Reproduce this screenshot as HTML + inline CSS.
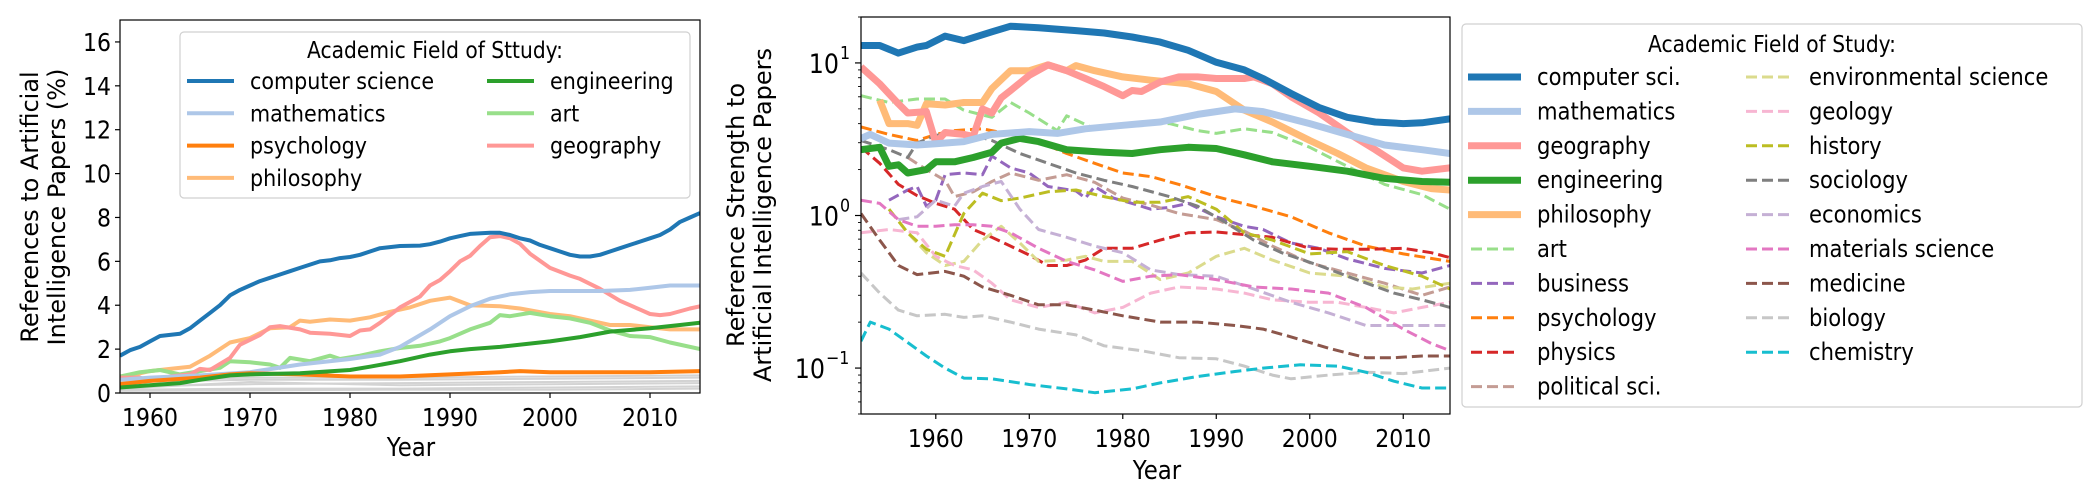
<!DOCTYPE html>
<html><head><meta charset="utf-8">
<style>
html,body{margin:0;padding:0;background:#fff;}
svg{display:block;font-family:"DejaVu Sans","Liberation Sans",sans-serif;}
</style></head>
<body>
<svg id="chart" width="2098" height="494" viewBox="0 0 2098 494" xmlns="http://www.w3.org/2000/svg">
<rect x="0" y="0" width="2098" height="494" fill="#fff"/>
<g id="left"></g>
<g id="right"></g>
</svg>
<script>
// ---------- LEFT CHART DATA ----------
const leftYearTicks = [1960,1970,1980,1990,2000,2010];
const leftValueTicks = [0,2,4,6,8,10,12,14,16];
const leftCs = [[1957,1.7],[1958,1.95],[1959,2.1],[1960,2.35],[1961,2.6],[1962,2.65],[1963,2.7],[1964,2.95],[1965,3.3],[1966,3.65],[1967,4.0],[1968,4.45],[1969,4.7],[1970,4.9],[1971,5.1],[1972,5.25],[1973,5.4],[1974,5.55],[1975,5.7],[1976,5.85],[1977,6.0],[1978,6.05],[1979,6.15],[1980,6.2],[1981,6.3],[1982,6.45],[1983,6.6],[1984,6.65],[1985,6.7],[1987,6.72],[1988,6.78],[1989,6.9],[1990,7.05],[1991,7.15],[1992,7.25],[1994,7.3],[1995,7.3],[1996,7.2],[1997,7.05],[1998,6.95],[1999,6.75],[2000,6.6],[2001,6.45],[2002,6.3],[2003,6.22],[2004,6.22],[2005,6.3],[2006,6.45],[2007,6.6],[2008,6.75],[2009,6.9],[2010,7.05],[2011,7.2],[2012,7.45],[2013,7.8],[2014,8.0],[2015,8.2]];
const leftMath = [[1957,0.6],[1960,0.7],[1965,0.8],[1970,0.95],[1975,1.3],[1980,1.55],[1983,1.75],[1985,2.1],[1988,2.9],[1990,3.5],[1992,3.95],[1994,4.3],[1996,4.5],[1998,4.6],[2000,4.65],[2005,4.65],[2008,4.7],[2010,4.8],[2012,4.9],[2015,4.9]];
const leftPsych = [[1957,0.4],[1960,0.55],[1965,0.7],[1968,0.85],[1970,0.9],[1975,0.85],[1980,0.75],[1985,0.75],[1990,0.85],[1995,0.95],[1997,1.0],[2000,0.95],[2005,0.95],[2010,0.95],[2015,1.0]];
const leftPhil = [[1957,0.5],[1959,0.9],[1960,1.0],[1962,1.1],[1964,1.2],[1966,1.7],[1968,2.3],[1970,2.5],[1972,2.95],[1974,3.0],[1975,3.3],[1976,3.25],[1978,3.35],[1980,3.3],[1982,3.45],[1984,3.7],[1986,3.9],[1988,4.2],[1990,4.35],[1992,4.0],[1995,3.95],[1997,3.85],[2000,3.6],[2002,3.5],[2004,3.3],[2006,3.1],[2008,3.1],[2010,3.0],[2012,2.9],[2015,2.9]];
const leftEng = [[1957,0.25],[1960,0.35],[1963,0.45],[1965,0.6],[1968,0.8],[1970,0.85],[1975,0.9],[1980,1.05],[1982,1.2],[1985,1.45],[1988,1.75],[1990,1.9],[1992,2.0],[1995,2.1],[2000,2.35],[2003,2.55],[2006,2.8],[2010,2.95],[2013,3.1],[2015,3.2]];
const leftArt = [[1957,0.75],[1959,0.95],[1961,1.05],[1963,0.85],[1965,1.0],[1967,1.15],[1968,1.45],[1970,1.4],[1972,1.3],[1973,1.15],[1974,1.6],[1976,1.45],[1978,1.7],[1979,1.55],[1981,1.7],[1983,1.9],[1985,2.05],[1987,2.15],[1989,2.35],[1990,2.5],[1992,2.9],[1994,3.2],[1995,3.55],[1996,3.5],[1998,3.65],[2000,3.5],[2002,3.4],[2004,3.2],[2006,2.85],[2008,2.6],[2010,2.55],[2012,2.3],[2015,2.0]];
const leftGeog = [[1957,0.7],[1959,0.7],[1960,0.55],[1962,0.75],[1964,0.85],[1965,1.1],[1966,1.05],[1968,1.6],[1969,2.2],[1971,2.65],[1972,3.0],[1973,3.05],[1975,2.9],[1976,2.75],[1978,2.7],[1980,2.6],[1981,2.85],[1982,2.9],[1983,3.2],[1985,3.9],[1987,4.4],[1988,4.9],[1989,5.15],[1990,5.55],[1991,6.0],[1992,6.25],[1993,6.7],[1994,7.1],[1995,7.15],[1996,7.05],[1997,6.8],[1998,6.35],[2000,5.7],[2002,5.35],[2003,5.2],[2005,4.75],[2007,4.2],[2009,3.8],[2010,3.6],[2011,3.55],[2012,3.6],[2014,3.85],[2015,3.95]];
const leftGray1 = [[1957,0.15],[1970,0.2],[1985,0.2],[2000,0.25],[2015,0.3]];
const leftGray2 = [[1957,0.3],[1970,0.4],[1985,0.45],[2000,0.5],[2015,0.55]];
const leftGray3 = [[1957,0.5],[1970,0.6],[1985,0.6],[2000,0.65],[2015,0.7]];
const leftGray4 = [[1957,0.1],[1970,0.12],[1985,0.15],[2000,0.15],[2015,0.2]];
const leftGray5 = [[1957,0.2],[1970,0.5],[1985,0.35],[2000,0.4],[2015,0.45]];
const leftGray6 = [[1957,0.6],[1970,0.7],[1985,0.7],[2000,0.75],[2015,0.8]];

// ---------- RIGHT CHART DATA ----------
const rightYearTicks = [1960,1970,1980,1990,2000,2010];
const rightDecades = [-1,0,1];
const rCs = [[1952,13],[1954,13],[1956,11.6],[1958,12.7],[1959,13],[1961,15],[1963,14],[1966,16],[1968,17.4],[1971,17],[1975,16.3],[1978,15.7],[1981,14.8],[1984,13.7],[1987,12.1],[1990,10.1],[1993,9],[1995,7.9],[1998,6.3],[2001,5.1],[2004,4.4],[2007,4.1],[2010,4.0],[2012,4.05],[2015,4.3]];
const rMath = [[1952,3.2],[1953,3.4],[1955,2.98],[1958,2.9],[1960,2.95],[1963,3.05],[1966,3.4],[1970,3.55],[1973,3.45],[1976,3.7],[1980,3.9],[1984,4.1],[1988,4.6],[1992,5.0],[1995,4.8],[2000,4.0],[2004,3.4],[2008,2.9],[2012,2.7],[2015,2.55]];
const rGeog = [[1952,9.4],[1954,7.3],[1956,5.4],[1957,4.7],[1959,4.8],[1960,3.0],[1961,3.5],[1963,3.4],[1964,3.3],[1965,5.0],[1966,4.7],[1967,5.9],[1968,6.6],[1970,8.3],[1972,9.7],[1974,8.9],[1976,7.9],[1978,7.0],[1980,6.1],[1981,6.6],[1982,6.5],[1984,7.5],[1986,8.1],[1988,8.1],[1990,7.9],[1993,7.9],[1994,8.1],[1996,7.3],[1998,6.0],[2001,4.7],[2004,3.5],[2007,2.7],[2010,2.05],[2012,1.95],[2015,2.05]];
const rEng = [[1952,2.7],[1954,2.8],[1955,2.1],[1956,2.15],[1957,1.9],[1959,2.0],[1960,2.25],[1962,2.25],[1964,2.4],[1966,2.6],[1967,2.98],[1969,3.2],[1971,3.05],[1974,2.7],[1978,2.6],[1981,2.55],[1984,2.7],[1987,2.8],[1990,2.75],[1993,2.5],[1996,2.25],[2000,2.1],[2004,1.95],[2008,1.75],[2012,1.67],[2015,1.65]];
const rPhil = [[1954,5.7],[1955,4.0],[1957,4.0],[1958,3.9],[1959,5.4],[1961,5.3],[1963,5.5],[1965,5.5],[1966,6.8],[1968,8.9],[1970,8.9],[1972,9.7],[1974,8.9],[1975,9.6],[1977,8.9],[1980,8.1],[1983,7.7],[1987,7.3],[1990,6.5],[1993,4.9],[1996,4.1],[2000,3.1],[2003,2.55],[2006,2.05],[2010,1.67],[2013,1.5],[2015,1.47]];
const rArt = [[1952,6.1],[1955,5.5],[1958,5.8],[1961,5.8],[1963,4.9],[1966,4.4],[1968,5.5],[1970,4.7],[1973,3.6],[1974,4.5],[1977,3.7],[1980,4.0],[1985,4.0],[1988,3.6],[1990,3.45],[1993,3.7],[1996,3.5],[2000,2.8],[2004,2.1],[2008,1.6],[2012,1.37],[2015,1.1]];
const rBusiness = [[1955,1.26],[1957,1.47],[1958,1.55],[1959,1.15],[1960,1.26],[1961,1.85],[1963,1.9],[1965,1.85],[1966,2.45],[1968,2.05],[1970,1.9],[1972,1.55],[1975,1.45],[1976,1.3],[1977,1.55],[1979,1.3],[1981,1.2],[1983,1.1],[1985,1.13],[1987,1.2],[1990,0.98],[1993,0.85],[1995,0.81],[1998,0.66],[2001,0.61],[2004,0.52],[2008,0.45],[2012,0.42],[2015,0.47]];
const rPsych = [[1952,3.8],[1955,3.4],[1958,3.1],[1960,3.4],[1962,3.6],[1965,3.7],[1968,3.4],[1971,3.05],[1974,2.55],[1977,2.2],[1980,1.9],[1983,1.8],[1986,1.6],[1990,1.33],[1994,1.15],[1998,0.98],[2002,0.77],[2006,0.63],[2010,0.56],[2015,0.5]];
const rPhysics = [[1952,2.8],[1954,2.2],[1956,1.6],[1958,1.35],[1960,1.2],[1962,1.1],[1964,0.81],[1966,0.72],[1968,0.63],[1970,0.55],[1972,0.47],[1974,0.47],[1976,0.51],[1978,0.61],[1981,0.61],[1984,0.69],[1987,0.77],[1990,0.78],[1993,0.75],[1996,0.72],[2000,0.61],[2003,0.6],[2006,0.6],[2010,0.61],[2013,0.57],[2015,0.53]];
const rPolisci = [[1957,2.4],[1959,2.0],[1961,1.7],[1962,1.33],[1964,1.43],[1966,1.67],[1968,1.9],[1971,1.7],[1974,1.85],[1977,1.65],[1980,1.3],[1983,1.17],[1986,1.03],[1990,0.94],[1993,0.79],[1996,0.63],[2000,0.49],[2004,0.42],[2008,0.36],[2012,0.3],[2015,0.34]];
const rEnv = [[1955,1.1],[1957,0.77],[1959,0.57],[1961,0.47],[1963,0.5],[1965,0.69],[1967,0.85],[1969,0.66],[1971,0.5],[1974,0.51],[1976,0.54],[1978,0.5],[1981,0.5],[1984,0.38],[1987,0.42],[1990,0.54],[1993,0.61],[1996,0.51],[2000,0.42],[2004,0.4],[2008,0.34],[2011,0.33],[2015,0.36]];
const rGeology = [[1952,0.77],[1955,0.81],[1958,0.77],[1960,0.54],[1962,0.47],[1964,0.44],[1966,0.36],[1968,0.28],[1971,0.25],[1974,0.27],[1977,0.23],[1980,0.25],[1983,0.31],[1986,0.34],[1990,0.33],[1993,0.31],[1996,0.28],[2000,0.27],[2003,0.27],[2006,0.25],[2009,0.23],[2012,0.25],[2015,0.27]];
const rHistory = [[1955,1.1],[1957,0.77],[1959,0.6],[1961,0.54],[1963,1.03],[1965,1.4],[1967,1.25],[1969,1.3],[1972,1.43],[1975,1.47],[1978,1.33],[1981,1.22],[1984,1.22],[1987,1.33],[1990,1.1],[1993,0.77],[1996,0.69],[2000,0.56],[2004,0.58],[2008,0.47],[2012,0.4],[2015,0.33]];
const rSociology = [[1952,3.1],[1955,2.7],[1957,2.4],[1958,2.98],[1960,3.35],[1963,3.5],[1966,3.1],[1969,2.55],[1972,2.2],[1975,1.9],[1978,1.7],[1981,1.55],[1985,1.33],[1988,1.15],[1991,0.9],[1994,0.69],[1997,0.57],[2001,0.47],[2005,0.38],[2009,0.31],[2012,0.28],[2015,0.25]];
const rEconomics = [[1956,0.94],[1958,0.98],[1960,1.26],[1962,1.15],[1963,1.4],[1965,1.55],[1967,1.67],[1969,1.1],[1971,0.81],[1974,0.72],[1977,0.63],[1980,0.57],[1983,0.44],[1986,0.41],[1990,0.4],[1994,0.33],[1998,0.27],[2002,0.23],[2006,0.19],[2010,0.19],[2015,0.19]];
const rMaterials = [[1952,1.26],[1954,1.2],[1956,0.94],[1958,0.85],[1960,0.85],[1962,0.87],[1964,0.87],[1966,0.85],[1968,0.77],[1971,0.61],[1974,0.5],[1977,0.44],[1980,0.37],[1983,0.4],[1986,0.41],[1990,0.38],[1994,0.34],[1998,0.33],[2002,0.31],[2006,0.25],[2010,0.18],[2013,0.145],[2015,0.13]];
const rMedicine = [[1952,1.03],[1954,0.69],[1956,0.47],[1958,0.41],[1961,0.43],[1963,0.4],[1965,0.34],[1968,0.3],[1971,0.26],[1974,0.26],[1977,0.24],[1980,0.22],[1984,0.2],[1988,0.2],[1992,0.19],[1995,0.18],[1998,0.16],[2002,0.135],[2006,0.117],[2009,0.117],[2012,0.12],[2015,0.12]];
const rBiology = [[1952,0.42],[1954,0.31],[1956,0.24],[1958,0.22],[1961,0.225],[1963,0.215],[1965,0.22],[1968,0.2],[1971,0.18],[1975,0.165],[1978,0.14],[1982,0.13],[1986,0.117],[1990,0.115],[1993,0.103],[1996,0.09],[1998,0.085],[2002,0.09],[2006,0.094],[2010,0.092],[2015,0.1]];
const rChem = [[1952,0.15],[1953,0.2],[1955,0.18],[1957,0.147],[1959,0.12],[1961,0.1],[1963,0.086],[1966,0.085],[1970,0.078],[1974,0.073],[1977,0.069],[1981,0.073],[1984,0.08],[1988,0.088],[1992,0.095],[1995,0.1],[1999,0.105],[2003,0.103],[2006,0.094],[2009,0.082],[2012,0.074],[2015,0.074]];

const NS = "http://www.w3.org/2000/svg";
const SX = 0.88;
function mk(parent, tag, attrs, text) {
  const e = document.createElementNS(NS, tag);
  for (const k in attrs) e.setAttribute(k, attrs[k]);
  if (text !== undefined) e.textContent = text;
  parent.appendChild(e);
  return e;
}
// condensed text helper
function txt(parent, x, y, size, anchor, str) {
  return mk(parent, 'text', {transform: 'translate(' + x + ',' + y + ') scale(' + SX + ',1)', x: 0, y: 0, 'font-size': size, 'text-anchor': anchor}, str);
}

// ---------- LEFT ----------
const L = document.getElementById('left');
const lx0 = 120, lx1 = 700, ly0 = 20, ly1 = 393;
const lxMin = 1957, lxMax = 2015, lyMin = 0, lyMax = 17;
function lx(v) { return lx0 + (v - lxMin) / (lxMax - lxMin) * (lx1 - lx0); }
function ly(v) { return ly1 - (v - lyMin) / (lyMax - lyMin) * (ly1 - ly0); }
function lpath(data) { return data.map((d, i) => (i ? 'L' : 'M') + lx(d[0]).toFixed(1) + ' ' + ly(d[1]).toFixed(1)).join(' '); }

const lclip = mk(L, 'clipPath', {id: 'lclip'});
mk(lclip, 'rect', {x: lx0, y: ly0, width: lx1 - lx0, height: ly1 - ly0});
const lplot = mk(L, 'g', {'clip-path': 'url(#lclip)'});



const leftGrays = [leftGray1, leftGray2, leftGray3, leftGray4, leftGray5, leftGray6];
leftGrays.forEach(g => {
  const p = mk(lplot, 'path', {d: lpath(g), fill: 'none', stroke: '#d3d3d3', 'stroke-width': 2});
  
  
});
const leftSeries = [
  {d: leftPhil, c: '#ffbb78', n: 'philosophy'},
  {d: leftArt, c: '#98df8a', n: 'art'},
  {d: leftGeog, c: '#ff9896', n: 'geography'},
  {d: leftMath, c: '#aec7e8', n: 'mathematics'},
  {d: leftPsych, c: '#ff7f0e', n: 'psychology'},
  {d: leftEng, c: '#2ca02c', n: 'engineering'},
  {d: leftCs, c: '#1f77b4', n: 'computer-science'}
];
leftSeries.forEach(s => {
  const p = mk(lplot, 'path', {d: lpath(s.d), fill: 'none', stroke: s.c, 'stroke-width': 4, 'stroke-linejoin': 'round'});
  
  
});
const lframe = mk(L, 'rect', {x: lx0, y: ly0, width: lx1 - lx0, height: ly1 - ly0, fill: 'none', stroke: '#000', 'stroke-width': 1.2});


leftYearTicks.forEach(t => {
  mk(L, 'line', {x1: lx(t), x2: lx(t), y1: ly1, y2: ly1 + 5, stroke: '#000', 'stroke-width': 1.2});
  const tx = txt(L, lx(t), ly1 + 33, 25, 'middle', String(t));
  
  
});
leftValueTicks.forEach(t => {
  mk(L, 'line', {x1: lx0 - 5, x2: lx0, y1: ly(t), y2: ly(t), stroke: '#000', 'stroke-width': 1.2});
  const tx = txt(L, lx0 - 9, ly(t) + 9, 25, 'end', String(t));
  
  
});
const lxt = txt(L, 411, 456, 26, 'middle', 'Year');


const lyt = mk(L, 'text', {transform: 'translate(38,207) rotate(-90)', 'font-size': 24, 'text-anchor': 'middle'});


mk(lyt, 'tspan', {x: 0, y: 0}, 'References to Artificial');
mk(lyt, 'tspan', {x: 0, y: 27}, 'Intelligence Papers (%)');

// left legend
const lleg = mk(L, 'g', {});


mk(lleg, 'rect', {x: 180, y: 32, width: 510, height: 166, rx: 4, fill: '#fff', 'fill-opacity': 0.85, stroke: '#d0d0d0', 'stroke-width': 1.2});
txt(lleg, 435, 58, 23, 'middle', 'Academic Field of Sttudy:');
const lLegItems = [
  ['computer science', '#1f77b4', 0, 0], ['mathematics', '#aec7e8', 0, 1], ['psychology', '#ff7f0e', 0, 2], ['philosophy', '#ffbb78', 0, 3],
  ['engineering', '#2ca02c', 1, 0], ['art', '#98df8a', 1, 1], ['geography', '#ff9896', 1, 2]
];
lLegItems.forEach(it => {
  const hx = it[2] ? 487 : 187, tx = it[2] ? 550 : 250, yy = 81 + it[3] * 32.3;
  const e = mk(lleg, 'g', {});
  
  
  mk(e, 'line', {x1: hx, x2: hx + 47, y1: yy, y2: yy, stroke: it[1], 'stroke-width': 4});
  txt(e, tx, yy + 8, 23.5, 'start', it[0]);
});

// ---------- RIGHT ----------
const R = document.getElementById('right');
const rx0 = 861, rx1 = 1450, ry0 = 17, ry1 = 414;
const rxMin = 1952, rxMax = 2015;
const rlogMin = Math.log10(0.05), rlogMax = Math.log10(20);
function rx(v) { return rx0 + (v - rxMin) / (rxMax - rxMin) * (rx1 - rx0); }
function ry(v) { return ry1 - (Math.log10(v) - rlogMin) / (rlogMax - rlogMin) * (ry1 - ry0); }
function rpath(data) { return data.map((d, i) => (i ? 'L' : 'M') + rx(d[0]).toFixed(1) + ' ' + ry(d[1]).toFixed(1)).join(' '); }

const rclip = mk(R, 'clipPath', {id: 'rclip'});
mk(rclip, 'rect', {x: rx0, y: ry0, width: rx1 - rx0, height: ry1 - ry0});
const rplot = mk(R, 'g', {'clip-path': 'url(#rclip)'});



const rSeries = [
  {d: rCs, c: '#1f77b4', n: 'computer sci.', thick: 1},
  {d: rMath, c: '#aec7e8', n: 'mathematics', thick: 1},
  {d: rGeog, c: '#ff9896', n: 'geography', thick: 1},
  {d: rEng, c: '#2ca02c', n: 'engineering', thick: 1},
  {d: rPhil, c: '#ffbb78', n: 'philosophy', thick: 1},
  {d: rArt, c: '#98df8a', n: 'art', thick: 0},
  {d: rBusiness, c: '#9467bd', n: 'business', thick: 0},
  {d: rPsych, c: '#ff7f0e', n: 'psychology', thick: 0},
  {d: rPhysics, c: '#d62728', n: 'physics', thick: 0},
  {d: rPolisci, c: '#c49c94', n: 'political sci.', thick: 0},
  {d: rEnv, c: '#dbdb8d', n: 'environmental science', thick: 0},
  {d: rGeology, c: '#f7b6d2', n: 'geology', thick: 0},
  {d: rHistory, c: '#bcbd22', n: 'history', thick: 0},
  {d: rSociology, c: '#7f7f7f', n: 'sociology', thick: 0},
  {d: rEconomics, c: '#c5b0d5', n: 'economics', thick: 0},
  {d: rMaterials, c: '#e377c2', n: 'materials science', thick: 0},
  {d: rMedicine, c: '#8c564b', n: 'medicine', thick: 0},
  {d: rBiology, c: '#c7c7c7', n: 'biology', thick: 0},
  {d: rChem, c: '#17becf', n: 'chemistry', thick: 0}
];
rSeries.filter(s => !s.thick).concat(rSeries.filter(s => s.thick).reverse()).forEach(s => {
  const a = {d: rpath(s.d), fill: 'none', stroke: s.c, 'stroke-linejoin': 'round'};
  if (s.thick) a['stroke-width'] = 7; else { a['stroke-width'] = 3; a['stroke-dasharray'] = '11 5'; }
  const p = mk(rplot, 'path', a);
  
  
});
const rframe = mk(R, 'rect', {x: rx0, y: ry0, width: rx1 - rx0, height: ry1 - ry0, fill: 'none', stroke: '#000', 'stroke-width': 1.2});


rightYearTicks.forEach(t => {
  mk(R, 'line', {x1: rx(t), x2: rx(t), y1: ry1, y2: ry1 + 5, stroke: '#000', 'stroke-width': 1.2});
  const tx = txt(R, rx(t), ry1 + 33, 25, 'middle', String(t));
  
  
});
rightDecades.forEach(d => {
  const v = Math.pow(10, d);
  mk(R, 'line', {x1: rx0 - 6, x2: rx0, y1: ry(v), y2: ry(v), stroke: '#000', 'stroke-width': 1.2});
  const sup = d < 0 ? '\u2212' + Math.abs(d) : String(d);
  const supW = d < 0 ? 26 : 12;
  const tx = txt(R, rx0 - 10 - supW, ry(v) + 10, 27, 'end', '10');
  
  
  txt(R, rx0 - 9 - supW, ry(v) - 4, 18, 'start', sup);
});
for (let d = -2; d <= 1; d++) {
  for (let m = 2; m <= 9; m++) {
    const v = m * Math.pow(10, d);
    if (v < 0.05 || v > 20) continue;
    mk(R, 'line', {x1: rx0 - 3, x2: rx0, y1: ry(v), y2: ry(v), stroke: '#000', 'stroke-width': 0.9});
  }
}
const rxt = txt(R, 1157, 479, 26, 'middle', 'Year');


const ryt = mk(R, 'text', {transform: 'translate(744,215) rotate(-90)', 'font-size': 24, 'text-anchor': 'middle'});


mk(ryt, 'tspan', {x: 0, y: 0}, 'Reference Strength to');
mk(ryt, 'tspan', {x: 0, y: 27}, 'Artificial Intelligence Papers');

// right legend
const rleg = mk(R, 'g', {});


mk(rleg, 'rect', {x: 1462, y: 24, width: 620, height: 383, rx: 4, fill: '#fff', stroke: '#d0d0d0', 'stroke-width': 1.2});
txt(rleg, 1772, 52, 23, 'middle', 'Academic Field of Study:');
rSeries.forEach((s, i) => {
  const col = i < 10 ? 0 : 1, row = i < 10 ? i : i - 10;
  const hx = col ? 1743 : 1468, tx = col ? 1809 : 1537, yy = 77 + row * 34.4;
  const e = mk(rleg, 'g', {});
  
  
  if (s.thick) mk(e, 'line', {x1: hx, x2: hx + 53, y1: yy, y2: yy, stroke: s.c, 'stroke-width': 7});
  else mk(e, 'line', {x1: hx + 3, x2: hx + 50, y1: yy, y2: yy, stroke: s.c, 'stroke-width': 3, 'stroke-dasharray': '11 5'});
  txt(e, tx, yy + 8, 24, 'start', s.n);
});
</script>
</body></html>
